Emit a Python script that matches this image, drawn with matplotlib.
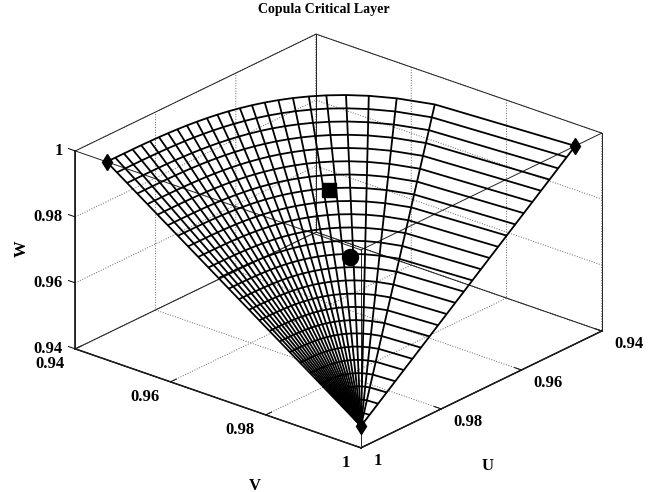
import numpy as np
import matplotlib
matplotlib.use('Agg')
import matplotlib.pyplot as plt

plt.rcParams['font.family'] = ['Liberation Serif', 'DejaVu Serif']
plt.rcParams['font.weight'] = 'bold'
plt.rcParams['axes.labelweight'] = 'bold'
plt.rcParams['axes.titleweight'] = 'bold'
plt.rcParams['grid.linestyle'] = ':'
plt.rcParams['grid.linewidth'] = 0.7
plt.rcParams['grid.color'] = '#666666'

# Values
axis_ticks = [0.94, 0.96, 0.98, 1.0]
axis_tick_labels = ['0.94', '0.96', '0.98', '1']
top_arc_u = [1.0, .99786, .99573, .99359, .99146, .98932, .98718, .98505, .98291, .98078,
             .97864, .9765, .97437, .97223, .9701, .96796, .96582, .96369, .96155, .95942,
             .95728, .95514, .95301, .95087, .94874, .9466]
top_arc_v = [.9466, .9466, .94661, .94662, .94665, .9467, .94677, .94689, .94704, .94724,
             .94751, .94784, .94825, .94875, .94937, .9501, .95098, .95205, .95331, .95485,
             .95672, .95905, .96204, .96609, .9723, 1.0]
layer_w = [.9466, .94874, .95087, .95301, .95514, .95728, .95942, .96155, .96369, .96582,
           .96796, .9701, .97223, .97437, .9765, .97864, .98078, .98291, .98505, .98718,
           .98932, .99146, .99359, .99573, .99786, 1.0]
diamond_u = [1.0, .9466, 1.0]
diamond_v = [.9466, 1.0, 1.0]
diamond_w = [1.0, 1.0, .9466]
square_point = [.9558, .956, .97]
circle_point = [.9736, .9755, .97]

# Mesh: straight generators from the apex to the top arc
u_top = np.array(top_arc_u)
v_top = np.array(top_arc_v)
w_lev = np.array(layer_w)
frac = (w_lev - w_lev[0]) / (w_lev[-1] - w_lev[0])
U = 1 + np.outer(frac, u_top - 1)
V = 1 + np.outer(frac, v_top - 1)
W = np.repeat(w_lev[:, None], len(u_top), axis=1)

fig = plt.figure(figsize=(6.48, 4.92), dpi=100)
S = 800.0
ax = fig.add_axes([-72.3 / 648, -159.8 / 492, S / 648, S / 492], projection='3d', proj_type='ortho',
                  computed_zorder=False)
ax.patch.set_alpha(0)
ax.view_init(elev=24.2, azim=40.2)
ax.set_box_aspect((373, 374, 217), zoom=0.693)
ax.set_xlim(0.94, 1, view_margin=0)
ax.set_ylim(0.94, 1, view_margin=0)
ax.set_zlim(0.94, 1, view_margin=0)

ax.set_xticks(axis_ticks, axis_tick_labels)
ax.set_yticks(axis_ticks, axis_tick_labels)
ax.set_zticks(axis_ticks, axis_tick_labels)
ax.tick_params(labelsize=12)
ax.tick_params(axis='x', pad=5)
ax.tick_params(axis='y', pad=6)
ax.tick_params(axis='z', pad=-1)
ax.zaxis._get_tickdir = lambda pos: 1

for lab in ax.get_xticklabels():
    lab.set_ha('left')
    lab.set_va('center')
for lab in ax.get_yticklabels():
    lab.set_ha('right')
    lab.set_va('center')
for lab in ax.get_zticklabels():
    lab.set_ha('right')
    lab.set_va('center')

for axis in (ax.xaxis, ax.yaxis, ax.zaxis):
    axis.set_pane_color((1, 1, 1, 0))
    axis.pane.set_edgecolor((1, 1, 1, 0))
    axis.line.set_linewidth(1.1)
    axis._axinfo['tick']['inward_factor'] = 0.0
    axis._axinfo['tick']['outward_factor'] = 0.3
    axis._axinfo['tick']['linewidth'] = {True: 0.7, False: 0.7}

# box outline (all twelve edges)
lo, hi = 0.94, 1.0
box_kw = dict(color='#222222', lw=0.7, zorder=1)
for a in (lo, hi):
    for b in (lo, hi):
        ax.plot([lo, hi], [a, a], [b, b], **box_kw)
        ax.plot([a, a], [lo, hi], [b, b], **box_kw)
        ax.plot([a, a], [b, b], [lo, hi], **box_kw)

ax.plot_wireframe(U, V, W, rstride=1, cstride=1, color='black', linewidth=1.3, zorder=2)
ax.plot(diamond_u, diamond_v, diamond_w, linestyle='none', marker='d', ms=8, color='black', zorder=4)
ax.plot([square_point[0]], [square_point[1]], [square_point[2]], linestyle='none', marker='s', ms=9.5,
        color='black', zorder=4)
ax.plot([circle_point[0]], [circle_point[1]], [circle_point[2]], linestyle='none', marker='o', ms=11.5,
        color='black', zorder=4)

ax.set_xlabel('U', fontsize=12, labelpad=18)
ax.set_ylabel('V', fontsize=12, labelpad=18)
ax.zaxis.set_rotate_label(False)
ax.set_zlabel('W', fontsize=12, rotation=90, labelpad=14)


def nudge_label(label, dx_px, dy_px):
    """Shift an axis label from where mplot3d puts it, given in pixels."""
    per_px = 0.185 / S
    original = label.set_position
    label.set_position = lambda xy: original((xy[0] + dx_px * per_px, xy[1] + dy_px * per_px))


nudge_label(ax.xaxis.label, -31, -38)
nudge_label(ax.yaxis.label, 68, -47)
nudge_label(ax.zaxis.label, 8, 3)

ax.set_title('Copula Critical Layer', fontsize=10, x=(324 + 72.3) / S,
             y=(479 + 159.8) / S / 0.92, pad=0)

fig.savefig('out.png', dpi=100)
